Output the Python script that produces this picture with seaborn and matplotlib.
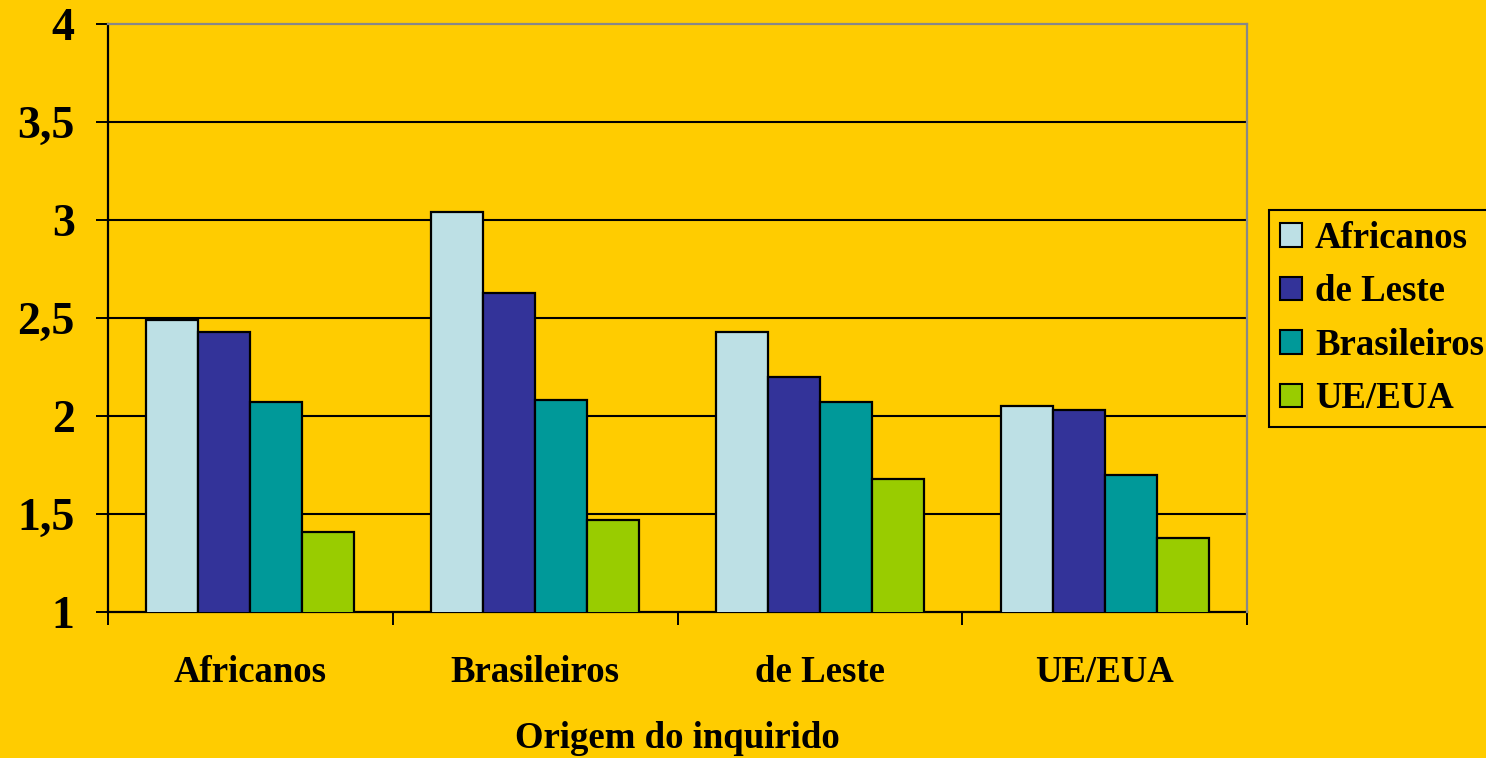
# Grouped bar chart - origem do inquirido

import pandas as pd
import matplotlib
matplotlib.use("Agg")
import matplotlib.pyplot as plt
import seaborn as sns
from matplotlib.ticker import FixedLocator

# -------------------------------
# DATA
# -------------------------------

origens = ["Africanos", "Brasileiros", "de Leste", "UE/EUA"]
series = ["Africanos", "de Leste", "Brasileiros", "UE/EUA"]

africanos = [2.49, 3.04, 2.43, 2.05]
de_leste = [2.43, 2.63, 2.20, 2.03]
brasileiros = [2.07, 2.08, 2.07, 1.70]
ue_eua = [1.41, 1.47, 1.68, 1.38]

y_ticks = [1, 1.5, 2, 2.5, 3, 3.5, 4]
y_labels = ["1", "1,5", "2", "2,5", "3", "3,5", "4"]

x_label = "Origem do inquirido"

colors = ["#BDE0E5", "#333399", "#009999", "#99CC00"]
bg = "#FFCC00"

# -------------------------------
# LONG FORMAT TABLE
# -------------------------------

rows = []
for name, vals in zip(series, [africanos, de_leste, brasileiros, ue_eua]):
    for o, v in zip(origens, vals):
        rows.append({"origem": o, "grupo": name, "valor": v})
df = pd.DataFrame(rows)

# -------------------------------
# PLOT
# -------------------------------

sns.set_style("white")
plt.rcParams['font.family'] = ['Liberation Serif', 'DejaVu Serif']
plt.rcParams['font.weight'] = 'bold'
plt.rcParams['text.color'] = 'black'
plt.rcParams['axes.labelcolor'] = 'black'
plt.rcParams['xtick.color'] = 'black'
plt.rcParams['ytick.color'] = 'black'

fig = plt.figure(figsize=(14.86, 7.58), dpi=100, facecolor=bg)
ax = fig.add_axes([0.0727, 0.1926, 0.7665, 0.7757])
ax.set_facecolor(bg)

sns.barplot(data=df, x="origem", y="valor", hue="grupo",
            order=origens, hue_order=series, palette=colors,
            width=0.73, gap=0, edgecolor="black", linewidth=1.6,
            saturation=1, ax=ax, zorder=3)

ax.set_ylim(1, 4)
ax.set_xlim(-0.5, len(origens) - 0.5)

# grid
for t in y_ticks[1:-1]:
    ax.axhline(t, color="black", linewidth=1.5, zorder=1)

ax.yaxis.set_major_locator(FixedLocator(y_ticks))
ax.set_yticklabels(y_labels, fontsize=33, fontweight="bold")
ax.tick_params(axis="y", direction="out", length=9, width=1.4,
               color="black", pad=15, left=True)

ax.set_xticks(range(len(origens)))
ax.set_xticklabels(origens, fontsize=26.5, fontweight="bold")
ax.set_xticks([i - 0.5 for i in range(len(origens) + 1)], minor=True)
ax.tick_params(axis="x", which="major", length=0, pad=31)
ax.tick_params(axis="x", which="minor", direction="out", length=9,
               width=1.4, color="black", bottom=True)

ax.set_xlabel(x_label, fontsize=26.5, fontweight="bold", labelpad=22.5)
ax.set_ylabel("")

for side in ["left", "bottom"]:
    ax.spines[side].set_color("black")
    ax.spines[side].set_linewidth(1.6)
for side in ["top", "right"]:
    ax.spines[side].set_color("#888888")
    ax.spines[side].set_linewidth(1.6)
    ax.spines[side].set_zorder(4)

# legend on the right, runs past the edge
ax.get_legend().remove()
handles = [plt.Rectangle((0, 0), 1, 1, facecolor=c, edgecolor="black",
                         linewidth=1.5) for c in colors]
leg = fig.legend(handles, series, loc="upper left",
                 bbox_to_anchor=(0.854, 0.723),
                 prop={"size": 26.5, "weight": "bold"},
                 frameon=True, fancybox=False, edgecolor="black",
                 facecolor=bg, framealpha=1,
                 handlelength=0.6, handleheight=0.6, handletextpad=0.35,
                 labelspacing=0.5, borderpad=0.3, borderaxespad=0)
leg.get_frame().set_linewidth(1.5)

plt.savefig("out.png", dpi=100, facecolor=bg)
